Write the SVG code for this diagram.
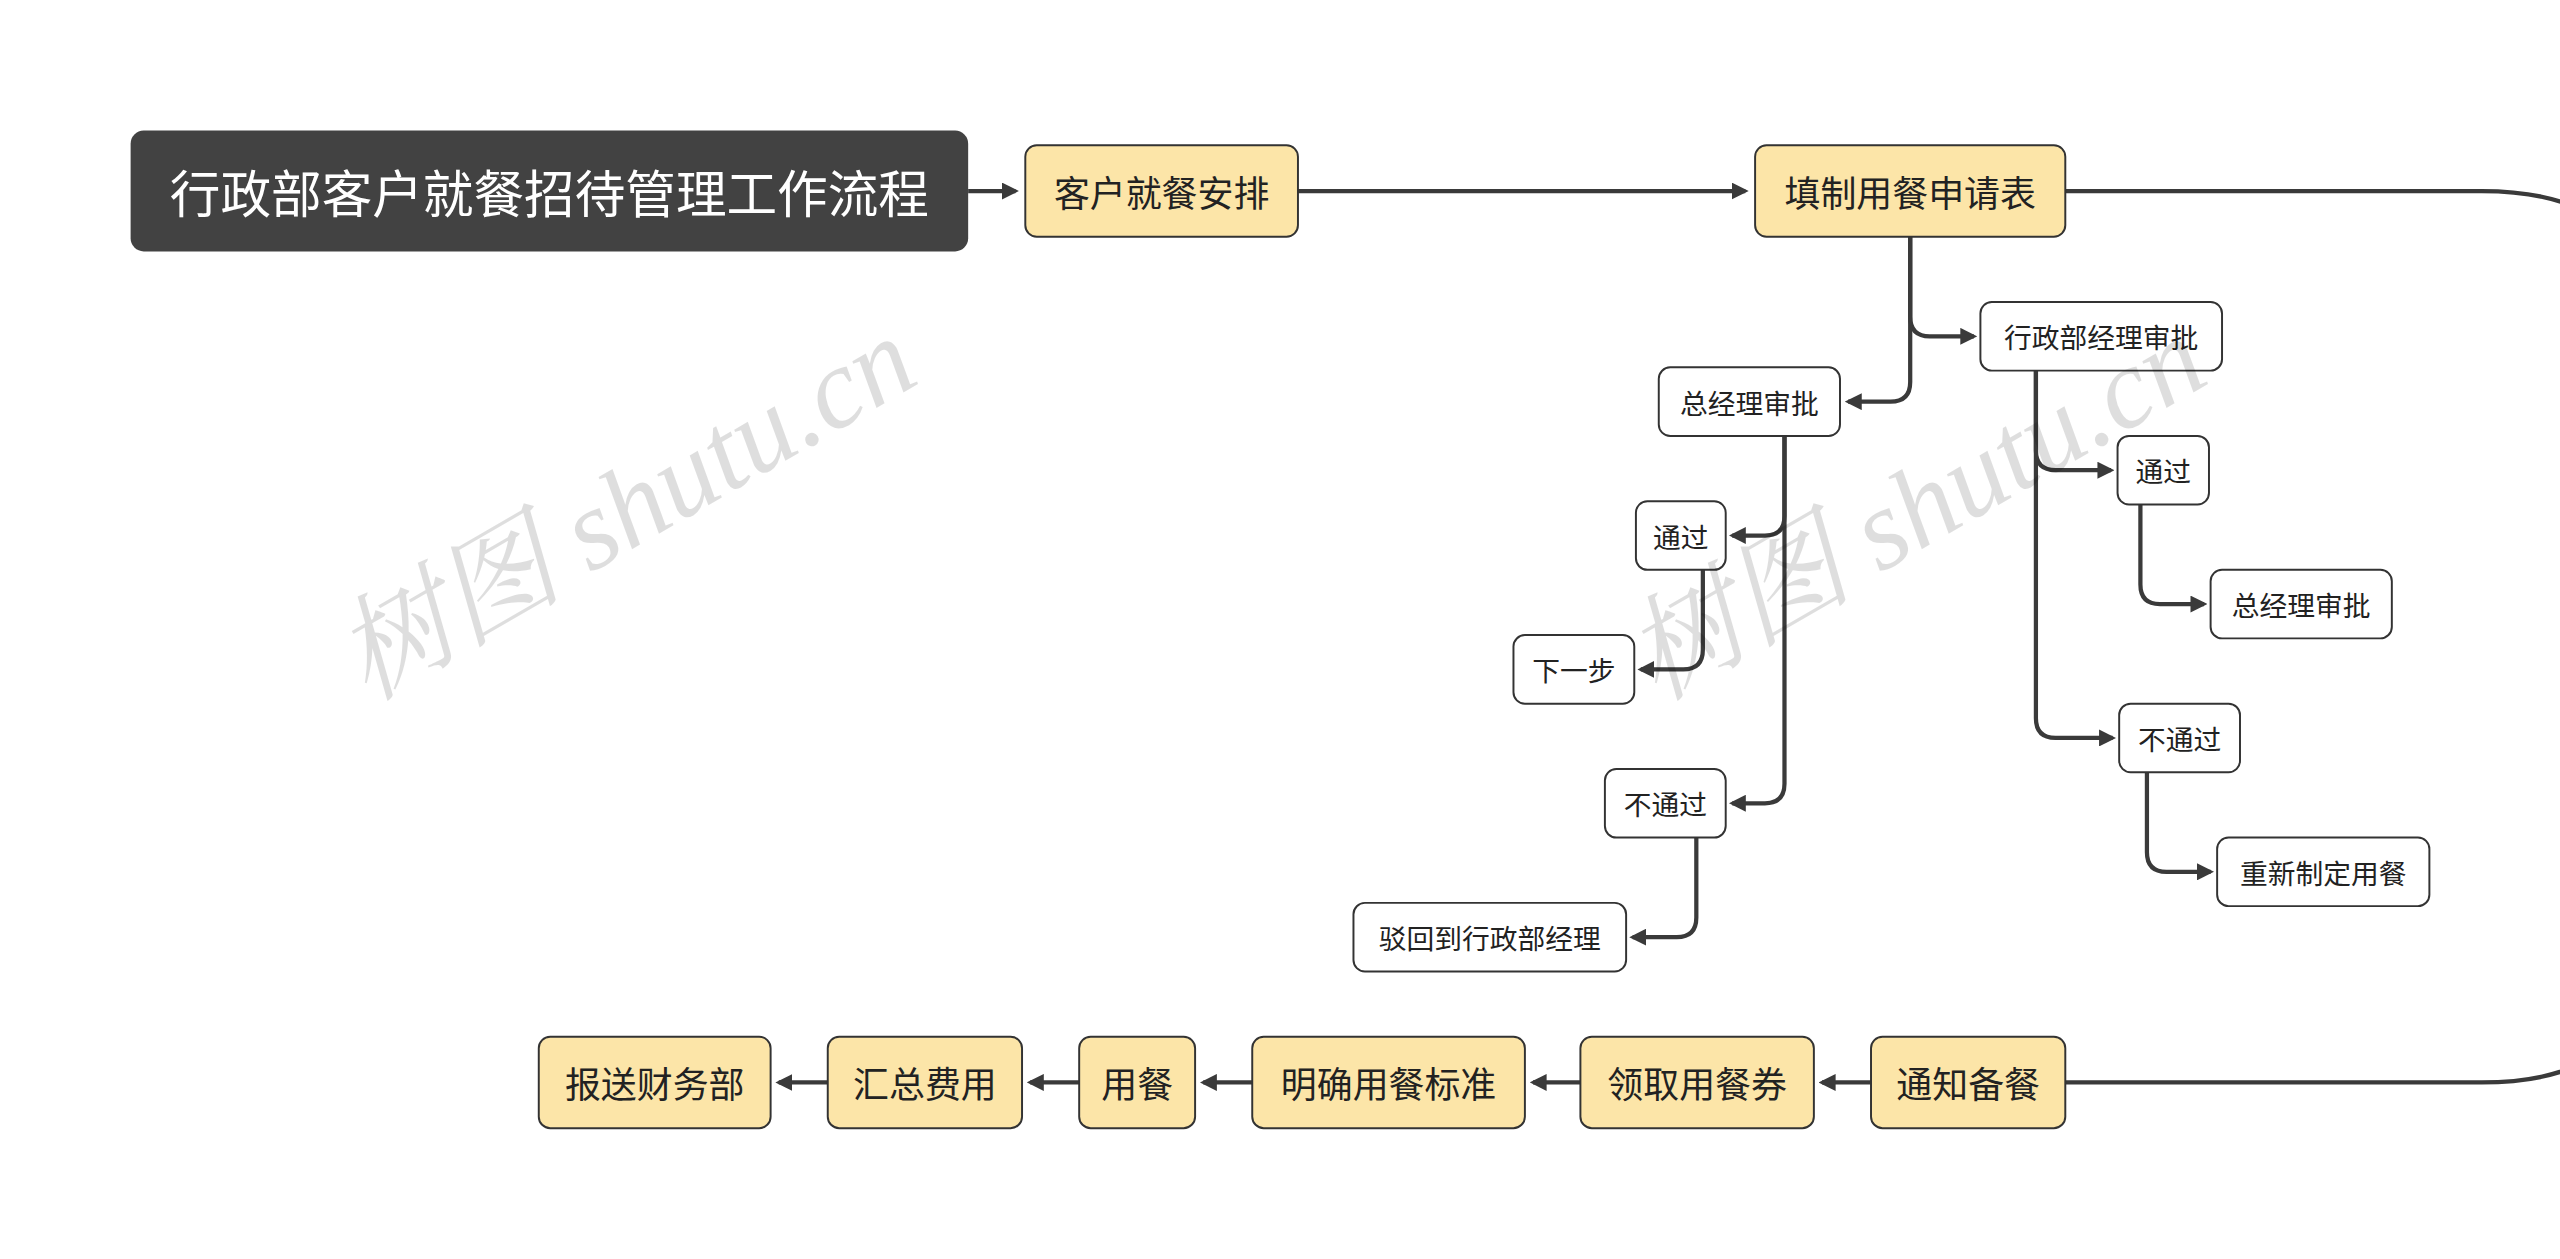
<svg xmlns="http://www.w3.org/2000/svg" width="2560" height="1259" viewBox="0 0 2560 1259">
<style>
.y{fill:#fce5a8;stroke:#333;stroke-width:1.2}
.w{fill:#fff;stroke:#333;stroke-width:1.2}
.t{font-family:"Noto Sans CJK SC","Noto Sans",sans-serif;fill:#222;text-anchor:middle;dominant-baseline:central}
.c{fill:none;stroke:#3a3a3a;stroke-width:2.6;marker-end:url(#a)}
.wm{font-family:"Liberation Serif","Noto Serif CJK SC","Noto Sans CJK SC",serif;font-style:italic;font-size:70px;fill:#000;fill-opacity:0.13}
</style>
<defs><marker id="a" viewBox="0 0 10 10" refX="8" refY="5" markerWidth="4" markerHeight="4" orient="auto"><path d="M0,0L10,5L0,10z" fill="#3a3a3a"/></marker></defs>
<rect width="2560" height="1259" fill="#fff"/>
<g transform="scale(1.63265)">
<g id="connectors">
<path class="c" d="M593,117H622"/>
<path class="c" d="M795,117H1069"/>
<path d="M1265,117H1520Q1620,117 1620,200V580Q1620,663 1520,663H1265" fill="none" stroke="#3a3a3a" stroke-width="2.6"/>
<path class="c" d="M1170,145V194Q1170,206 1182,206H1209"/>
<path class="c" d="M1170,145V234Q1170,246 1158,246H1132"/>
<path class="c" d="M1093,267V316Q1093,328 1081,328H1061"/>
<path class="c" d="M1093,267V480Q1093,492 1081,492H1061"/>
<path class="c" d="M1043,349V398Q1043,410 1031,410H1005"/>
<path class="c" d="M1039,513V562Q1039,574 1027,574H1000"/>
<path class="c" d="M1247,227V276Q1247,288 1259,288H1293"/>
<path class="c" d="M1247,227V440Q1247,452 1259,452H1294"/>
<path class="c" d="M1311,309V358Q1311,370 1323,370H1350"/>
<path class="c" d="M1315,473V522Q1315,534 1327,534H1354"/>
<path class="c" d="M1146,663H1116"/>
<path class="c" d="M968,663H939"/>
<path class="c" d="M767,663H737"/>
<path class="c" d="M661,663H631"/>
<path class="c" d="M507,663H477"/>
</g>
<g id="title"><rect x="80" y="80" width="513" height="74" rx="8" fill="#424242"/><text class="t" x="336.5" y="117" font-size="31" style="fill:#fff">行政部客户就餐招待管理工作流程</text></g>
<g id="n1"><rect class="y" x="628" y="89" width="167" height="56" rx="7"/><text class="t" x="711.5" y="117" font-size="22">客户就餐安排</text></g>
<g id="n2"><rect class="y" x="1075" y="89" width="190" height="56" rx="7"/><text class="t" x="1170" y="117" font-size="22">填制用餐申请表</text></g>
<g id="n3"><rect class="w" x="1213" y="185" width="148" height="42" rx="7"/><text class="t" x="1287" y="206" font-size="17">行政部经理审批</text></g>
<g id="n4"><rect class="w" x="1016" y="225" width="111" height="42" rx="7"/><text class="t" x="1071.5" y="246" font-size="17">总经理审批</text></g>
<g id="n5"><rect class="w" x="1002" y="307" width="55" height="42" rx="7"/><text class="t" x="1029.5" y="328" font-size="17">通过</text></g>
<g id="n6"><rect class="w" x="927" y="389" width="74" height="42" rx="7"/><text class="t" x="964" y="410" font-size="17">下一步</text></g>
<g id="n7"><rect class="w" x="983" y="471" width="74" height="42" rx="7"/><text class="t" x="1020" y="492" font-size="17">不通过</text></g>
<g id="n8"><rect class="w" x="829" y="553" width="167" height="42" rx="7"/><text class="t" x="912.5" y="574" font-size="17">驳回到行政部经理</text></g>
<g id="n9"><rect class="w" x="1297" y="267" width="56" height="42" rx="7"/><text class="t" x="1325" y="288" font-size="17">通过</text></g>
<g id="n10"><rect class="w" x="1354" y="349" width="111" height="42" rx="7"/><text class="t" x="1409.5" y="370" font-size="17">总经理审批</text></g>
<g id="n11"><rect class="w" x="1298" y="431" width="74" height="42" rx="7"/><text class="t" x="1335" y="452" font-size="17">不通过</text></g>
<g id="n12"><rect class="w" x="1358" y="513" width="130" height="42" rx="7"/><text class="t" x="1423" y="534" font-size="17">重新制定用餐</text></g>
<g id="n13"><rect class="y" x="1146" y="635" width="119" height="56" rx="7"/><text class="t" x="1205.5" y="663" font-size="22">通知备餐</text></g>
<g id="n14"><rect class="y" x="968" y="635" width="143" height="56" rx="7"/><text class="t" x="1039.5" y="663" font-size="22">领取用餐券</text></g>
<g id="n15"><rect class="y" x="767" y="635" width="167" height="56" rx="7"/><text class="t" x="850.5" y="663" font-size="22">明确用餐标准</text></g>
<g id="n16"><rect class="y" x="661" y="635" width="71" height="56" rx="7"/><text class="t" x="696.5" y="663" font-size="22">用餐</text></g>
<g id="n17"><rect class="y" x="507" y="635" width="119" height="56" rx="7"/><text class="t" x="566.5" y="663" font-size="22">汇总费用</text></g>
<g id="n18"><rect class="y" x="330" y="635" width="142" height="56" rx="7"/><text class="t" x="401" y="663" font-size="22">报送财务部</text></g>
<g id="watermark">
<text class="wm" transform="translate(225,430) rotate(-30)">树图 shutu.cn</text>
<text class="wm" transform="translate(1015,430) rotate(-30)">树图 shutu.cn</text>
</g>
</g>
</svg>
